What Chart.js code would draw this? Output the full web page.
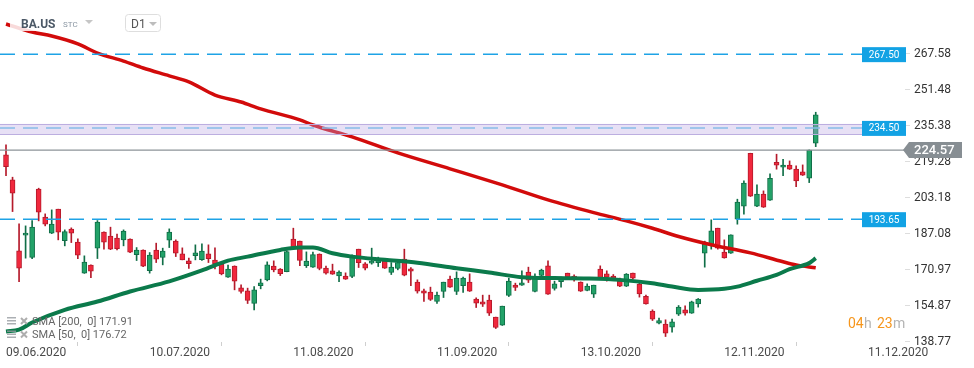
<!DOCTYPE html>
<html>
<head>
<meta charset="utf-8">
<script src="https://cdn.jsdelivr.net/npm/chart.js@4.4.1/dist/chart.umd.min.js"></script>
<style>
  html, body { margin: 0; padding: 0; background: #fff; }
  canvas { display: block; }
</style>
</head>
<body>
<canvas id="chart" width="974" height="368"></canvas>
<script>
// BA.US daily candles, one entry per trading day starting 09.06.2020
const openP = [222.41,211.23,179.48,186.51,176.49,207.08,194.55,187.40,198.13,184.09,
  189.19,183.37,169.51,173.08,180.69,187.85,186.06,185.16,184.40,184.72,
  177.83,179.80,170.67,179.80,176.49,184.27,183.82,178.14,175.01,177.38,
  175.59,178.14,175.32,173.53,167.72,172.64,162.94,161.59,155.92,163.96,
  166.51,172.64,171.30,170.20,184.71,183.82,172.91,172.20,178.00,171.75,
  170.54,168.30,168.17,167.99,180.24,173.67,173.98,174.25,174.88,169.78,
  171.57,175.77,171.43,165.48,161.59,161.01,156.81,161.28,166.83,161.28,
  163.96,165.48,157.88,156.68,157.43,149.83,146.25,159.49,164.14,164.14,
  169.96,161.28,168.44,172.78,162.62,165.75,169.51,167.72,165.48,161.73,
  160.12,171.30,169.20,168.17,165.93,163.69,169.51,164.59,159.14,152.52,
  147.15,146.70,145.36,151.17,153.10,151.62,155.78,178.45,181.85,189.63,
  178.90,178.45,193.66,199.47,223.17,199.47,204.84,202.16,219.15,216.91,
  217.81,216.02,214.81,212.00,227.64];
const highP = [226.89,212.44,191.56,190.66,193.03,207.52,196.03,197.82,198.13,188.87,
  189.77,184.85,177.25,173.22,193.03,187.98,190.08,186.95,188.87,184.85,
  180.96,179.93,178.72,182.93,180.69,189.32,184.40,180.82,176.22,182.17,
  182.61,182.17,180.82,173.67,173.08,172.78,164.28,162.80,163.52,166.83,
  174.56,175.01,171.57,179.48,189.63,183.82,179.03,178.90,178.14,172.64,
  173.53,170.54,169.64,177.69,180.24,174.25,180.69,176.67,175.46,174.25,
  174.88,180.24,172.02,166.51,162.35,163.25,161.01,165.48,168.17,170.09,
  167.72,169.20,158.46,159.67,159.67,149.83,154.75,167.27,165.03,170.54,
  172.19,169.20,171.30,175.01,165.93,167.72,169.51,168.75,165.62,164.72,
  164.14,172.78,170.54,168.88,167.27,169.33,169.51,165.03,159.67,153.10,
  149.38,148.63,148.94,155.02,154.89,156.99,158.16,183.82,193.35,189.63,
  184.40,186.63,202.60,210.79,223.17,209.00,206.32,213.92,222.73,220.49,
  219.73,217.49,217.94,224.65,241.51];
const lowP = [213.16,197.06,165.75,176.22,176.04,192.90,190.66,187.20,184.40,181.72,
  183.19,176.04,169.40,167.54,176.04,180.24,180.00,179.93,181.72,178.72,
  175.15,172.46,169.51,174.25,173.22,180.96,176.93,175.46,171.57,175.46,
  175.15,174.25,171.43,168.75,167.60,162.04,160.57,155.92,153.10,162.49,
  166.06,170.09,168.44,170.10,180.70,172.91,172.02,172.10,170.99,169.06,
  168.95,165.75,166.70,167.54,172.02,170.99,173.53,172.46,171.60,168.88,
  170.99,168.30,163.96,160.57,156.81,157.26,155.92,158.60,163.10,159.94,
  160.83,161.30,154.13,154.58,150.55,144.73,146.10,159.04,161.73,164.00,
  165.30,161.10,167.99,160.00,161.91,163.25,166.83,165.93,161.30,161.60,
  158.60,167.10,165.93,166.96,163.50,163.50,166.83,158.78,155.60,148.31,
  146.84,141.15,143.13,150.55,150.73,151.50,154.30,172.19,180.24,180.24,
  176.20,178.30,191.42,195.89,203.80,199.30,198.90,202.00,216.02,213.16,
  215.90,208.24,213.20,210.03,226.12];
const closeP = [217.18,205.29,171.75,187.40,190.08,196.79,191.42,191.42,187.85,188.11,
  187.40,177.56,174.43,170.40,192.32,183.37,180.24,180.51,188.29,178.90,
  179.80,172.64,177.56,175.77,179.35,187.85,178.45,175.46,173.80,178.59,
  179.35,176.04,173.80,169.20,171.30,165.93,161.28,157.26,162.04,165.17,
  173.22,170.99,169.33,179.17,180.82,175.15,174.88,177.83,171.57,169.51,
  169.06,169.96,166.83,177.25,174.25,171.75,174.88,175.46,171.75,172.19,
  174.25,168.61,170.40,161.46,160.57,157.70,159.67,165.48,163.25,167.27,
  167.27,161.46,156.09,155.65,151.62,145.18,154.75,165.93,163.07,165.17,
  166.38,167.99,170.85,160.12,164.72,167.72,167.72,167.27,161.46,163.69,
  164.14,167.27,167.72,167.10,163.69,169.06,167.27,160.25,155.78,148.94,
  148.27,142.67,147.73,154.30,151.62,156.68,157.88,182.48,188.43,180.69,
  176.36,186.63,201.26,209.76,203.94,204.84,199.02,211.99,217.81,217.81,
  216.02,210.79,213.34,224.52,240.30];

// moving averages (bar index, value)
const sma200Idx = [0,4,7,11,14,18,21,25,28,32,36,39,45,47,53,60,68,76,83,90,95,99,103,108,114,119,121,124];
const sma200Val = [281.0,277.4,275.6,272.1,268.0,264.4,261.3,257.8,255.1,249.2,246.1,243.0,238.1,235.8,
  230.5,223.3,216.2,209.0,202.3,196.6,192.9,189.6,185.9,182.2,178.6,174.6,173.2,171.9];
const sma50Idx = [0,2,4,9,14,19,25,30,34,37,42,45,47,50,53,58,63,69,74,79,84,89,94,99,102,106,110,112,115,118,120,123,124];
const sma50Val = [143.4,144.2,147.4,153.1,156.8,161.3,165.8,170.7,175.1,176.9,179.9,181.0,181.0,178.4,176.9,
  175.5,174.2,171.7,169.8,167.7,167.3,167.1,166.5,165.0,163.5,162.0,162.5,163.5,166.1,168.7,171.3,174.0,176.2];

// axis ticks
const xTickIdx = [0, 22, 44, 66, 88, 110, 132];
const xTickLabels = ['09.06.2020', '10.07.2020', '11.08.2020', '11.09.2020', '13.10.2020', '12.11.2020', '11.12.2020'];
const yTicks = [138.77, 154.87, 170.97, 187.08, 203.18, 219.28, 235.38, 251.48, 267.58];

// drawn levels
const levels = [267.50, 234.50, 193.65];
const zoneLow = 231.67, zoneHigh = 236.28;
const lastPrice = 224.57;

const UP_FILL = '#22a268', UP_EDGE = '#106e47';
const DOWN_FILL = '#f1283d', DOWN_EDGE = '#b51a2b';
const FONT = 'Roboto, "Noto Sans", sans-serif';

const barIdx = openP.map((_, i) => i);
const isUp = barIdx.map(i => closeP[i] >= openP[i]);
const fillCol = isUp.map(u => u ? UP_FILL : DOWN_FILL);
const edgeCol = isUp.map(u => u ? UP_EDGE : DOWN_EDGE);

/********** overlay drawing **********/
const overlay = {
  id: 'overlay',
  afterDatasetsDraw(chart) {
    const { ctx, chartArea, scales: { y } } = chart;
    const left = chartArea.left, right = chartArea.right;
    const tagX = right - 43;
    ctx.save();

    // purple zone
    const zt = y.getPixelForValue(zoneHigh), zb = y.getPixelForValue(zoneLow);
    ctx.fillStyle = 'rgba(185,165,225,0.35)';
    ctx.fillRect(left, zt, tagX - left, zb - zt);
    ctx.strokeStyle = '#bcaee0';
    ctx.lineWidth = 1;
    ctx.beginPath();
    ctx.moveTo(left, Math.round(zt) + 0.5); ctx.lineTo(tagX, Math.round(zt) + 0.5);
    ctx.moveTo(left, Math.round(zb) + 0.5); ctx.lineTo(tagX, Math.round(zb) + 0.5);
    ctx.stroke();

    // dashed levels
    ctx.setLineDash([15, 8]);
    ctx.lineWidth = 1.5;
    levels.forEach(v => {
      const yy = y.getPixelForValue(v);
      ctx.strokeStyle = v === 234.50 ? '#86bde9' : '#1ea3e6';
      ctx.beginPath(); ctx.moveTo(left, yy); ctx.lineTo(tagX, yy); ctx.stroke();
    });
    ctx.setLineDash([]);

    // last price line
    const py = y.getPixelForValue(lastPrice);
    ctx.strokeStyle = '#8c9398';
    ctx.lineWidth = 1.3;
    ctx.beginPath(); ctx.moveTo(left, py); ctx.lineTo(right, py); ctx.stroke();

    // level tags
    ctx.font = '10px ' + FONT;
    ctx.textAlign = 'center';
    ctx.textBaseline = 'middle';
    levels.forEach(v => {
      const yy = y.getPixelForValue(v);
      ctx.fillStyle = '#12a2e4';
      ctx.fillRect(tagX, yy - 7, 44, 15);
      ctx.fillStyle = '#fff';
      ctx.fillText(v.toFixed(2), tagX + 22, yy + 1);
    });

    // header backdrop
    ctx.fillStyle = 'rgba(255,255,255,0.85)';
    ctx.fillRect(10, 9, 165, 22);
    ctx.restore();
  },
  afterDraw(chart) {
    const { ctx, chartArea, scales: { y } } = chart;
    ctx.save();

    // last price tag
    const py = y.getPixelForValue(lastPrice);
    const bx = chartArea.right - 2;
    ctx.fillStyle = '#878e93';
    ctx.beginPath();
    ctx.moveTo(bx, py);
    ctx.lineTo(bx + 6, py - 8);
    ctx.lineTo(962, py - 8);
    ctx.lineTo(962, py + 8);
    ctx.lineTo(bx + 6, py + 8);
    ctx.closePath();
    ctx.fill();
    ctx.fillStyle = '#fff';
    ctx.font = '500 13px ' + FONT;
    ctx.textAlign = 'left';
    ctx.textBaseline = 'middle';
    ctx.fillText(lastPrice.toFixed(2), 914, py + 1);

    // header
    ctx.textBaseline = 'alphabetic';
    ctx.fillStyle = '#4b5866';
    ctx.font = 'bold 12px ' + FONT;
    ctx.fillText('BA.US', 21, 28);
    ctx.fillStyle = '#8b97a3';
    ctx.font = '8px ' + FONT;
    ctx.fillText('STC', 63, 27);
    ctx.fillStyle = '#c6c6c6';
    ctx.beginPath(); ctx.moveTo(85, 20); ctx.lineTo(93, 20); ctx.lineTo(89, 24); ctx.closePath(); ctx.fill();
    ctx.strokeStyle = '#dedede';
    ctx.lineWidth = 1;
    ctx.beginPath(); ctx.roundRect(125.5, 14.5, 35, 17, 3); ctx.stroke();
    ctx.fillStyle = '#555';
    ctx.font = '12px ' + FONT;
    ctx.fillText('D1', 131, 28);
    ctx.fillStyle = '#bdbdbd';
    ctx.beginPath(); ctx.moveTo(149, 22); ctx.lineTo(157, 22); ctx.lineTo(153, 26); ctx.closePath(); ctx.fill();

    // indicator legend
    const rows = [['SMA [200,  0] 171.91', 322], ['SMA [50,  0] 176.72', 335.5]];
    rows.forEach(([txt, cy]) => {
      ctx.fillStyle = 'rgba(150,155,160,0.8)';
      ctx.fillRect(7, cy - 5, 9, 1.5);
      ctx.fillRect(7, cy - 2, 9, 1.5);
      ctx.fillRect(7, cy + 1, 9, 1.5);
      ctx.strokeStyle = 'rgba(165,165,165,0.9)';
      ctx.lineWidth = 2;
      ctx.beginPath();
      ctx.moveTo(21, cy - 4); ctx.lineTo(27, cy + 2);
      ctx.moveTo(27, cy - 4); ctx.lineTo(21, cy + 2);
      ctx.stroke();
      ctx.fillStyle = '#666';
      ctx.font = '11px ' + FONT;
      ctx.textBaseline = 'middle';
      ctx.fillText(txt, 32, cy);
    });

    // countdown
    ctx.textBaseline = 'alphabetic';
    ctx.font = '14px ' + FONT;
    [['04', 848, '#f6961c'], ['h', 864, '#b4b4b4'], ['23', 877, '#f6961c'], ['m', 893, '#b4b4b4']]
      .forEach(([t, x, c]) => { ctx.fillStyle = c; ctx.fillText(t, x, 328); });
    ctx.restore();
  }
};

/********** chart **********/
new Chart(document.getElementById('chart'), {
  type: 'bar',
  data: {
    datasets: [
      {
        type: 'line',
        label: 'SMA 50',
        data: sma50Idx.map((x, i) => ({ x, y: sma50Val[i] })),
        borderColor: '#0b7a4b',
        borderWidth: 4,
        pointRadius: 0,
        cubicInterpolationMode: 'monotone',
        order: 0
      },
      {
        type: 'line',
        label: 'SMA 200',
        data: sma200Idx.map((x, i) => ({ x, y: sma200Val[i] })),
        borderColor: '#d20b0b',
        borderWidth: 3.5,
        pointRadius: 0,
        cubicInterpolationMode: 'monotone',
        order: 0
      },
      {
        label: 'body',
        data: barIdx.map(i => ({ x: i, y: [openP[i], closeP[i]] })),
        backgroundColor: fillCol,
        borderColor: edgeCol,
        borderWidth: 1,
        borderSkipped: false,
        barThickness: 5,
        minBarLength: 2,
        grouped: false,
        order: 1
      },
      {
        label: 'wick',
        data: barIdx.map(i => ({ x: i, y: [lowP[i], highP[i]] })),
        backgroundColor: edgeCol,
        barThickness: 1,
        grouped: false,
        order: 2
      }
    ]
  },
  options: {
    responsive: false,
    animation: false,
    devicePixelRatio: 1,
    layout: { padding: 0 },
    plugins: { legend: { display: false }, tooltip: { enabled: false } },
    scales: {
      x: {
        type: 'linear',
        min: -0.92,
        max: 137.67,
        offset: false,
        border: { display: false },
        grid: { drawOnChartArea: false, drawTicks: true, tickLength: 4, color: '#cfcfcf' },
        afterBuildTicks: s => { s.ticks = xTickIdx.map(v => ({ value: v })); },
        afterFit: s => { s.height = 26; s.paddingLeft = 0; s.paddingRight = 0; },
        ticks: {
          autoSkip: false,
          maxRotation: 0,
          align: 'start',
          padding: 0,
          color: '#4a4a4a',
          font: { family: FONT, size: 12 },
          callback: v => xTickLabels[xTickIdx.indexOf(v)] || ''
        }
      },
      y: {
        type: 'linear',
        position: 'right',
        min: 138.7,
        max: 291.73,
        border: { display: false },
        grid: { drawOnChartArea: false, drawTicks: true, tickLength: 5, color: '#dddddd' },
        afterBuildTicks: s => { s.ticks = yTicks.map(v => ({ value: v })); },
        afterFit: s => { s.width = 69; s.paddingTop = 0; s.paddingBottom = 0; },
        ticks: {
          padding: 4,
          color: '#333',
          font: { family: FONT, size: 12 },
          callback: v => v.toFixed(2)
        }
      }
    }
  },
  plugins: [overlay]
});
</script>
</body>
</html>
